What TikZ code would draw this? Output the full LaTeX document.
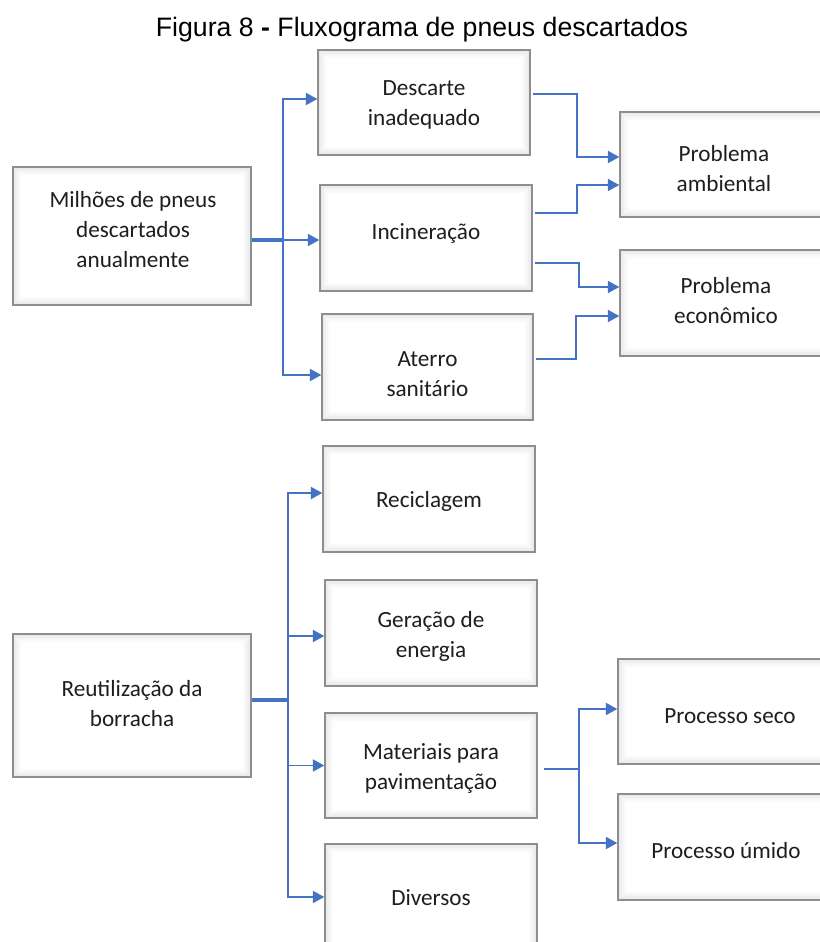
\documentclass[tikz,border=0pt]{standalone}
\usepackage{fontspec}
\setmainfont{Carlito}
\newfontfamily\titlefont{Liberation Sans}
\usetikzlibrary{arrows.meta,calc}
\definecolor{boxgray}{HTML}{8E8E8E}
\definecolor{bandA}{HTML}{E9E9EC}
\definecolor{bandB}{HTML}{EFEFF2}
\definecolor{bandC}{HTML}{F5F5F7}
\definecolor{bandD}{HTML}{FAFAFB}
\definecolor{linkblue}{HTML}{4472C4}
\definecolor{txt}{HTML}{1E1E1E}
\tikzset{
  sz/.style 2 args={minimum width=#1*0.75pt, minimum height=#2*0.75pt},
  box/.style={draw=boxgray, line width=1.1pt, fill=white, inner sep=0pt,
    path picture={
      \foreach \d/\c in {0/bandA,1.5/bandB,3/bandC,4.5/bandD,6/white}{
        \fill[\c] ([shift={(\d pt,\d pt)}]path picture bounding box.south west)
          rectangle ([shift={(-\d pt,-\d pt)}]path picture bounding box.north east);}
    }},
  lbl/.style={align=center, text=txt, inner sep=0pt,
    font=\fontsize{17.4}{22.5}\selectfont},
  conn/.style={draw=linkblue, line width=1.3pt},
  arr/.style={conn, -{Triangle[length=8.5pt,width=9pt]}},
  stem/.style={draw=linkblue, line width=2.4pt},
}
\begin{document}
\begin{tikzpicture}[x=0.75pt,y=-0.75pt]
\clip (0,0) rectangle (820,942);
\fill[white] (0,0) rectangle (820,942);

\node[text=black, font=\titlefont\fontsize{20}{24}\selectfont] (title) at (422,30)
  {Figura 8 \textbf{-} Fluxograma de pneus descartados};

% top group boxes
\node[box, sz={238}{138}] (mil) at (132,236) {};
\node[box, sz={212}{105}] (desc) at (424,102.5) {};
\node[box, sz={212}{106}] (inc) at (426,238) {};
\node[box, sz={211}{106}] (ater) at (427.5,367) {};
\node[box, sz={212}{105}] (pamb) at (726,164.5) {};
\node[box, sz={212}{106}] (peco) at (726,303) {};

% bottom group boxes
\node[box, sz={238}{143}] (reut) at (132,705.5) {};
\node[box, sz={212}{106}] (rec) at (429,499) {};
\node[box, sz={212}{106}] (ger) at (431,633) {};
\node[box, sz={212}{105}] (mat) at (431,765.5) {};
\node[box, sz={212}{106}] (div) at (431,897) {};
\node[box, sz={212}{105}] (pseco) at (724,711.5) {};
\node[box, sz={212}{106}] (pumi) at (724,847) {};

% texts
\node[lbl] (milT)   at ($(mil)+(1,-6)$)   {Milhões de pneus\\descartados\\anualmente};
\node[lbl] (descT)  at ($(desc)+(0,2.5)$) {Descarte\\inadequado};
\node[lbl] (incT)   at ($(inc)+(0,-5)$)   {Incineração};
\node[lbl] (aterT)  at ($(ater)+(0,7.5)$) {Aterro\\sanitário};
\node[lbl] (pambT)  at ($(pamb)+(-2,4.5)$) {Problema\\ambiental};
\node[lbl] (pecoT)  at ($(peco)+(0,-2)$)  {Problema\\econômico};
\node[lbl] (reutT)  at ($(reut)+(0,-1.5)$) {Reutilização da\\borracha};
\node[lbl] (recT)   at ($(rec)+(0,2)$)    {Reciclagem};
\node[lbl] (gerT)   at ($(ger)+(0,3.5)$)  {Geração de\\energia};
\node[lbl] (matT)   at ($(mat)+(0,2.5)$)  {Materiais para\\pavimentação};
\node[lbl] (divT)   at ($(div)+(0,1)$)    {Diversos};
\node[lbl] (psecoT) at ($(pseco)+(6,5)$)  {Processo seco};
\node[lbl] (pumiT)  at ($(pumi)+(2,4)$)   {Processo úmido};

% connectors top
\coordinate (j1) at (283,240);
\draw[stem] (mil.east |- j1) -- (j1);
\draw[arr] (j1) -- (inc.west |- j1);
\draw[arr] (j1) |- ($(desc.west)+(0,-3.5)$);
\draw[arr] (j1) |- ($(ater.west)+(0,8)$);

\draw[arr] ($(desc.east)+(2,-8.5)$) -- ++(44,0) |- ($(pamb.west)+(0,-7.5)$);
\draw[arr] ($(inc.east)+(2,-25)$) -- ++(42,0) |- ($(pamb.west)+(0,20.5)$);
\draw[arr] ($(inc.east)+(2,25)$) -- ++(44,0) |- ($(peco.west)+(0,-16)$);
\draw[arr] ($(ater.east)+(2,-8)$) -- ++(40,0) |- ($(peco.west)+(0,13)$);

% connectors bottom
\coordinate (j2) at (288,700);
\draw[stem] (reut.east |- j2) -- (j2);
\draw[arr] (j2) |- ($(rec.west)+(0,-6)$);
\draw[arr] (j2) |- ($(ger.west)+(0,3)$);
\draw[arr] (j2) |- (mat.west);
\draw[arr] (j2) |- (div.west);

\coordinate (j3) at (579,769);
\draw[conn] ($(mat.east |- j3)+(6,0)$) -- (j3);
\draw[arr] (j3) |- ($(pseco.west)+(0,-2.5)$);
\draw[arr] (j3) |- ($(pumi.west)+(0,-4)$);
\end{tikzpicture}
\end{document}
